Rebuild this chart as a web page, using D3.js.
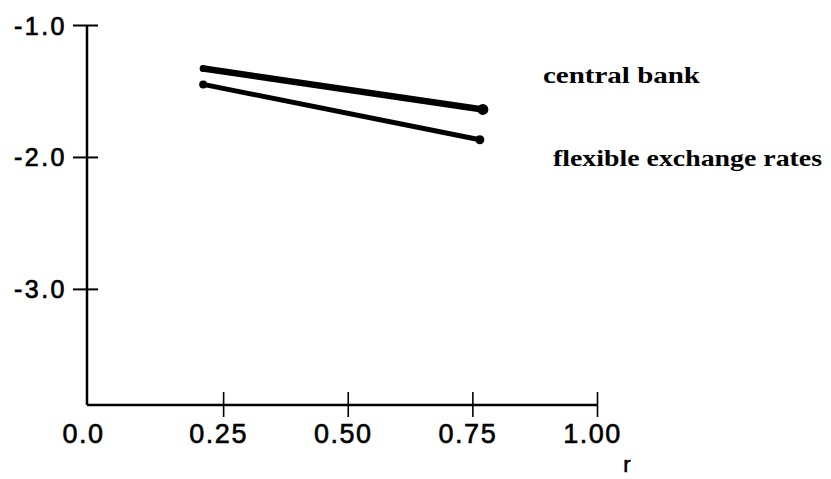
<!DOCTYPE html>
<html>
<head>
<meta charset="utf-8">
<script src="https://cdn.jsdelivr.net/npm/d3@7"></script>
<style>
  html, body { margin: 0; padding: 0; background: #fff; }
  svg { display: block; }
</style>
</head>
<body>
<svg id="chart" width="831" height="479"></svg>
<script>
// ---- data ----
const xTicks = [0.25, 0.50, 0.75, 1.00];
const xTickLabels = ["0.25", "0.50", "0.75", "1.00"];
const xZeroLabel = "0.0";
const yTicks = [-1, -2, -3];
const yTickLabels = ["-1.0", "-2.0", "-3.0"];
const xTitle = "r";
const seriesNames = ["central bank", "flexible exchange rates"];
const centralBankX = [0.21, 0.771];
const centralBankY = [-1.33, -1.64];
const flexibleX = [0.21, 0.765];
const flexibleY = [-1.45, -1.87];

// ---- layout ----
const svg = d3.select("#chart");
const x = d3.scaleLinear().domain([0, 1]).range([98.5, 597]);
const y = d3.scaleLinear().domain([-3.88, -1]).range([405, 25]);
const axisX0 = 87;   // position of vertical axis
const axisY0 = 405;  // position of horizontal axis
const sansFont = "'Liberation Sans', Arial, sans-serif";

// vertical axis
const yAxis = d3.axisLeft(y).tickValues(yTicks)
  .tickFormat((d, i) => yTickLabels[i]).tickSizeOuter(0);
const gy = svg.append("g").attr("transform", `translate(${axisX0},0)`).call(yAxis);
gy.select(".domain").attr("d", `M0,${y(-1)}V${axisY0}`).attr("stroke", "#000").attr("stroke-width", 2.5);
gy.selectAll(".tick line").attr("x1", 11).attr("x2", -14).attr("stroke", "#000").attr("stroke-width", 2);
gy.selectAll(".tick text")
  .attr("x", -20).attr("dy", "0.36em")
  .style("font-family", sansFont)
  .style("font-size", "25px").style("letter-spacing", "2.5px")
  .attr("fill", "#000").attr("stroke", "#000").attr("stroke-width", 0.7);

// horizontal axis
const xAxis = d3.axisBottom(x).tickValues(xTicks)
  .tickFormat((d, i) => xTickLabels[i]).tickSizeOuter(0);
const gx = svg.append("g").attr("transform", `translate(0,${axisY0})`).call(xAxis);
gx.select(".domain").attr("d", `M${axisX0},0H${x(1)}`).attr("stroke", "#000").attr("stroke-width", 2.5);
gx.selectAll(".tick line").attr("y1", -13).attr("y2", 12).attr("stroke", "#000").attr("stroke-width", 1.6);
gx.selectAll(".tick text")
  .attr("y", 38).attr("dy", 0).attr("dx", -5)
  .style("font-family", sansFont)
  .style("font-size", "27px").style("letter-spacing", "1.5px")
  .attr("fill", "#000").attr("stroke", "#000").attr("stroke-width", 0.6);
gx.append("text")
  .attr("x", x(0) - 15).attr("y", 38)
  .attr("text-anchor", "middle")
  .style("font-family", sansFont)
  .style("font-size", "27px").style("letter-spacing", "1.5px")
  .attr("fill", "#000").attr("stroke", "#000").attr("stroke-width", 0.6)
  .text(xZeroLabel);

// axis title
svg.append("text")
  .attr("x", x(1) + 30).attr("y", 472)
  .attr("text-anchor", "middle")
  .style("font-family", sansFont)
  .style("font-size", "22px")
  .attr("fill", "#000").attr("stroke", "#000").attr("stroke-width", 0.6)
  .text(xTitle);

// series lines
const line = d3.line().x(d => x(d[0])).y(d => y(d[1]));
const series = [
  { pts: d3.zip(centralBankX, centralBankY), w: 6.5, r0: 3.5, r1: 5.5 },
  { pts: d3.zip(flexibleX, flexibleY), w: 5, r0: 4, r1: 4.5 }
];
series.forEach(s => {
  svg.append("path").attr("d", line(s.pts))
    .attr("fill", "none").attr("stroke", "#000")
    .attr("stroke-width", s.w).attr("stroke-linecap", "round");
  svg.append("circle").attr("cx", x(s.pts[0][0])).attr("cy", y(s.pts[0][1])).attr("r", s.r0).attr("fill", "#000");
  svg.append("circle").attr("cx", x(s.pts[s.pts.length - 1][0])).attr("cy", y(s.pts[s.pts.length - 1][1])).attr("r", s.r1).attr("fill", "#000");
});

// series labels
const labelPos = [{ x: 543, y: 83, w: 157 }, { x: 553, y: 166, w: 269 }];
seriesNames.forEach((name, i) => {
  svg.append("text")
    .attr("x", labelPos[i].x).attr("y", labelPos[i].y)
    .attr("textLength", labelPos[i].w).attr("lengthAdjust", "spacingAndGlyphs")
    .style("font-family", "'Liberation Serif', 'DejaVu Serif', serif")
    .style("font-weight", "bold").style("font-size", "24px")
    .attr("fill", "#000")
    .text(name);
});
</script>
</body>
</html>
